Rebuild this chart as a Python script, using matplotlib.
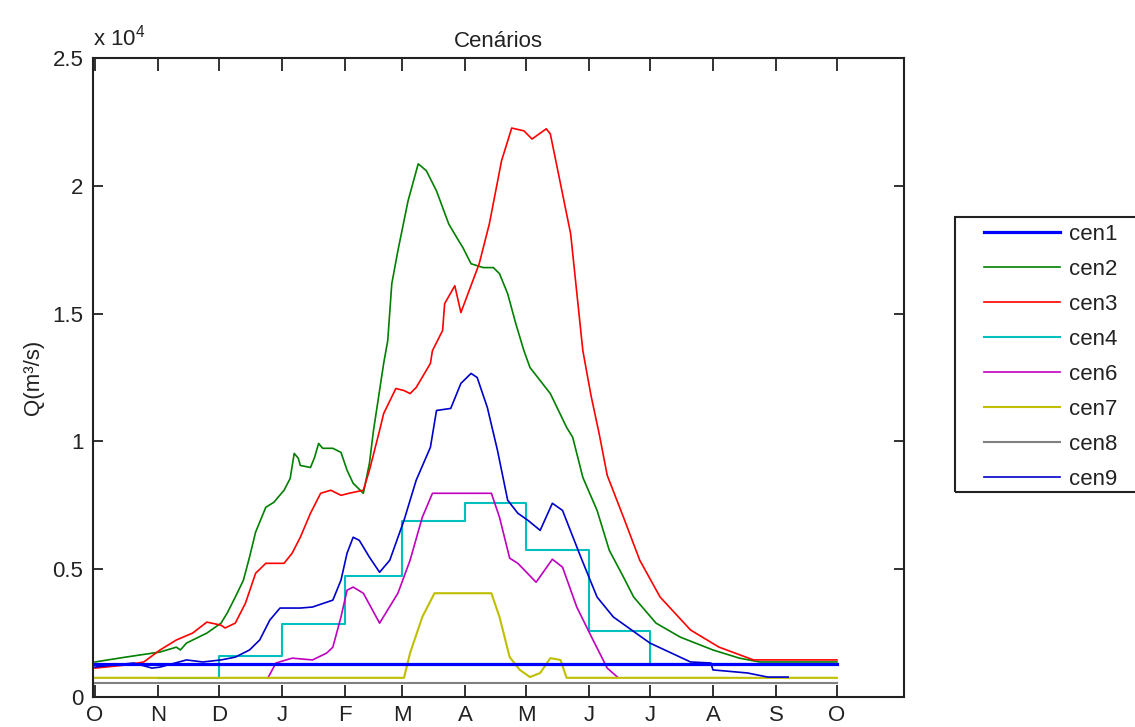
import matplotlib
matplotlib.use('Agg')
import matplotlib.pyplot as plt
from matplotlib.patches import Rectangle
from matplotlib.ticker import FuncFormatter

plt.rcParams['font.family'] = ['Liberation Sans', 'DejaVu Sans']
plt.rcParams['mathtext.fontset'] = 'custom'
plt.rcParams['mathtext.rm'] = 'Liberation Sans'

# eixo x: dias a partir de 1 de outubro
month_days = [0, 31, 61, 92, 123, 151, 182, 212, 243, 273, 304, 335, 365]
month_labels = ['O', 'N', 'D', 'J', 'F', 'M', 'A', 'M', 'J', 'J', 'A', 'S', 'O']

# vazões (m3/s)
cen1_days = [0, 365]
cen1_vals = [1300, 1300]

cen2_days = [0, 15, 32, 40, 42, 45, 55, 62, 65, 69, 73, 76, 79, 84, 88, 93, 96, 98, 100, 101,
             106, 108, 110, 112, 117, 121, 124, 127, 132, 135, 137, 142, 144, 146, 149, 154, 159, 163, 168, 174,
             178, 181, 185, 191, 196, 199, 203, 207, 211, 214, 224, 232, 235, 240, 247, 253, 260, 265, 276, 288,
             304, 317, 327, 365]
cen2_vals = [1370, 1560, 1760, 1950, 1840, 2110, 2500, 2890, 3280, 3910, 4570, 5470, 6450, 7420, 7620, 8090, 8550, 9530, 9340, 9060,
             8980, 9370, 9920, 9730, 9730, 9570, 8870, 8360, 7970, 9140, 10430, 13050, 13940, 16170, 17460, 19410, 20860, 20590, 19800, 18510,
             17970, 17580, 16950, 16800, 16800, 16560, 15780, 14610, 13550, 12890, 11870, 10550, 10160, 8590, 7300, 5740, 4690, 3910, 2890, 2340,
             1840, 1520, 1370, 1370]

cen3_days = [0, 15, 24, 32, 40, 48, 55, 62, 64, 69, 74, 79, 84, 93, 97, 101, 106, 111, 116, 121,
             125, 132, 135, 140, 142, 148, 152, 155, 158, 165, 166, 171, 172, 177, 180, 189, 194, 200, 205, 211,
             215, 222, 224, 229, 234, 240, 244, 248, 252, 260, 268, 278, 293, 307, 324, 365]
cen3_vals = [1130, 1250, 1370, 1840, 2230, 2500, 2930, 2810, 2700, 2890, 3670, 4840, 5230, 5230, 5630, 6250, 7190, 7970, 8090, 7890,
             7970, 8090, 8870, 10430, 11090, 12070, 11990, 11870, 12110, 13050, 13550, 14340, 15390, 16090, 15040, 16950, 18510, 20980, 22260, 22150,
             21830, 22230, 22030, 20080, 18120, 13550, 11800, 10310, 8670, 7030, 5350, 3910, 2620, 1950, 1450, 1450]

cen4_days = [31, 61, 92, 123, 151, 182, 212, 243, 273, 365]
cen4_vals = [750, 1600, 2850, 4750, 6900, 7600, 5750, 2600, 1300, 1300]

cen6_days = [85, 89, 97, 107, 114, 117, 121, 124, 127, 132, 140, 149, 155, 161, 166, 195, 199, 204, 208, 217,
             225, 230, 237, 245, 252, 257]
cen6_vals = [740, 1330, 1520, 1450, 1720, 1950, 3130, 4180, 4300, 4060, 2890, 4060, 5350, 7030, 7970, 7970, 7030, 5430, 5230, 4490,
             5390, 5080, 3520, 2230, 1130, 780]

cen7_days = [0, 152, 155, 161, 167, 195, 199, 204, 209, 214, 219, 224, 229, 232, 365]
cen7_vals = [750, 750, 1720, 3130, 4060, 4060, 3130, 1560, 1060, 780, 940, 1520, 1450, 750, 750]

cen8_days = [0, 365]
cen8_vals = [550, 550]

cen9_days = [0, 9, 19, 28, 32, 45, 53, 62, 69, 76, 81, 86, 91, 101, 107, 117, 121, 124, 127, 130,
             135, 140, 145, 152, 158, 165, 168, 175, 180, 185, 188, 193, 198, 203, 208, 213, 219, 225, 230, 239,
             247, 255, 273, 293, 303, 304, 321, 331, 341]
cen9_vals = [1170, 1250, 1330, 1130, 1170, 1450, 1370, 1450, 1560, 1840, 2230, 3010, 3480, 3480, 3520, 3790, 4570, 5630, 6250, 6130,
             5470, 4880, 5350, 6910, 8480, 9770, 11210, 11290, 12270, 12660, 12500, 11330, 9650, 7700, 7190, 6910, 6520, 7580, 7300, 5470,
             3910, 3130, 2110, 1370, 1330, 1060, 940, 780, 780]

fig = plt.figure(figsize=(11.35, 7.27), dpi=100)
ax = fig.add_axes([93 / 1135, 30 / 727, 811 / 1135, 639 / 727])

lw = 1.2
h1, = ax.plot(cen1_days, cen1_vals, color='#0000ff', lw=2.3, zorder=3, label='cen1')
h2, = ax.plot(cen2_days, cen2_vals, color='#008000', lw=lw, label='cen2')
h3, = ax.plot(cen3_days, cen3_vals, color='#ff0000', lw=lw, label='cen3')
h4, = ax.plot(cen4_days, cen4_vals, color='#00bfbf', lw=1.5, drawstyle='steps-post', label='cen4')
h6, = ax.plot(cen6_days, cen6_vals, color='#bf00bf', lw=lw, label='cen6')
h7, = ax.plot(cen7_days, cen7_vals, color='#bfbf00', lw=1.5, label='cen7')
h8, = ax.plot(cen8_days, cen8_vals, color='#808080', lw=1.5, label='cen8')
h9, = ax.plot(cen9_days, cen9_vals, color='#0000cc', lw=lw, label='cen9')

ax.set_xlim(-1, 398)
ax.set_ylim(0, 25000)
ax.set_xticks(month_days)
ax.set_xticklabels(month_labels)
ax.set_yticks([0, 5000, 10000, 15000, 20000, 25000])
ax.yaxis.set_major_formatter(FuncFormatter(lambda v, p: f'{v / 1e4:g}'))

fs = 16
ax.tick_params(direction='in', top=True, right=True, width=1.3, labelsize=fs,
               colors='#222222')
ax.tick_params(axis='x', length=9, pad=6)
ax.tick_params(axis='y', length=7, pad=7)
for s in ax.spines.values():
    s.set_linewidth(1.5)
    s.set_color('#222222')

ax.set_title('Cenários', fontsize=fs, color='#222222', pad=8)
ax.set_ylabel('Q(m³/s)', fontsize=fs, color='#222222', labelpad=6)
ax.text(0.0, 1.012, r'x 10$^\mathregular{4}$', transform=ax.transAxes, fontsize=fs,
        color='#222222', ha='left', va='bottom')

# legenda fora do eixo, caixa desenhada à parte
fig.patches.append(Rectangle((955 / 1135, 1 - 492 / 727), 200 / 1135, 275 / 727,
                             transform=fig.transFigure, facecolor='none',
                             edgecolor='#222222', lw=1.5))
leg = fig.legend([h1, h2, h3, h4, h6, h7, h8, h9],
                 ['cen1', 'cen2', 'cen3', 'cen4', 'cen6', 'cen7', 'cen8', 'cen9'],
                 loc='upper left', bbox_to_anchor=(962 / 1135, 1 - 202 / 727),
                 frameon=False, fontsize=fs, handlelength=3.4, handletextpad=0.4,
                 labelspacing=0.63, borderpad=0.5)
for t in leg.get_texts():
    t.set_color('#222222')

fig.savefig('out.png', dpi=100)
